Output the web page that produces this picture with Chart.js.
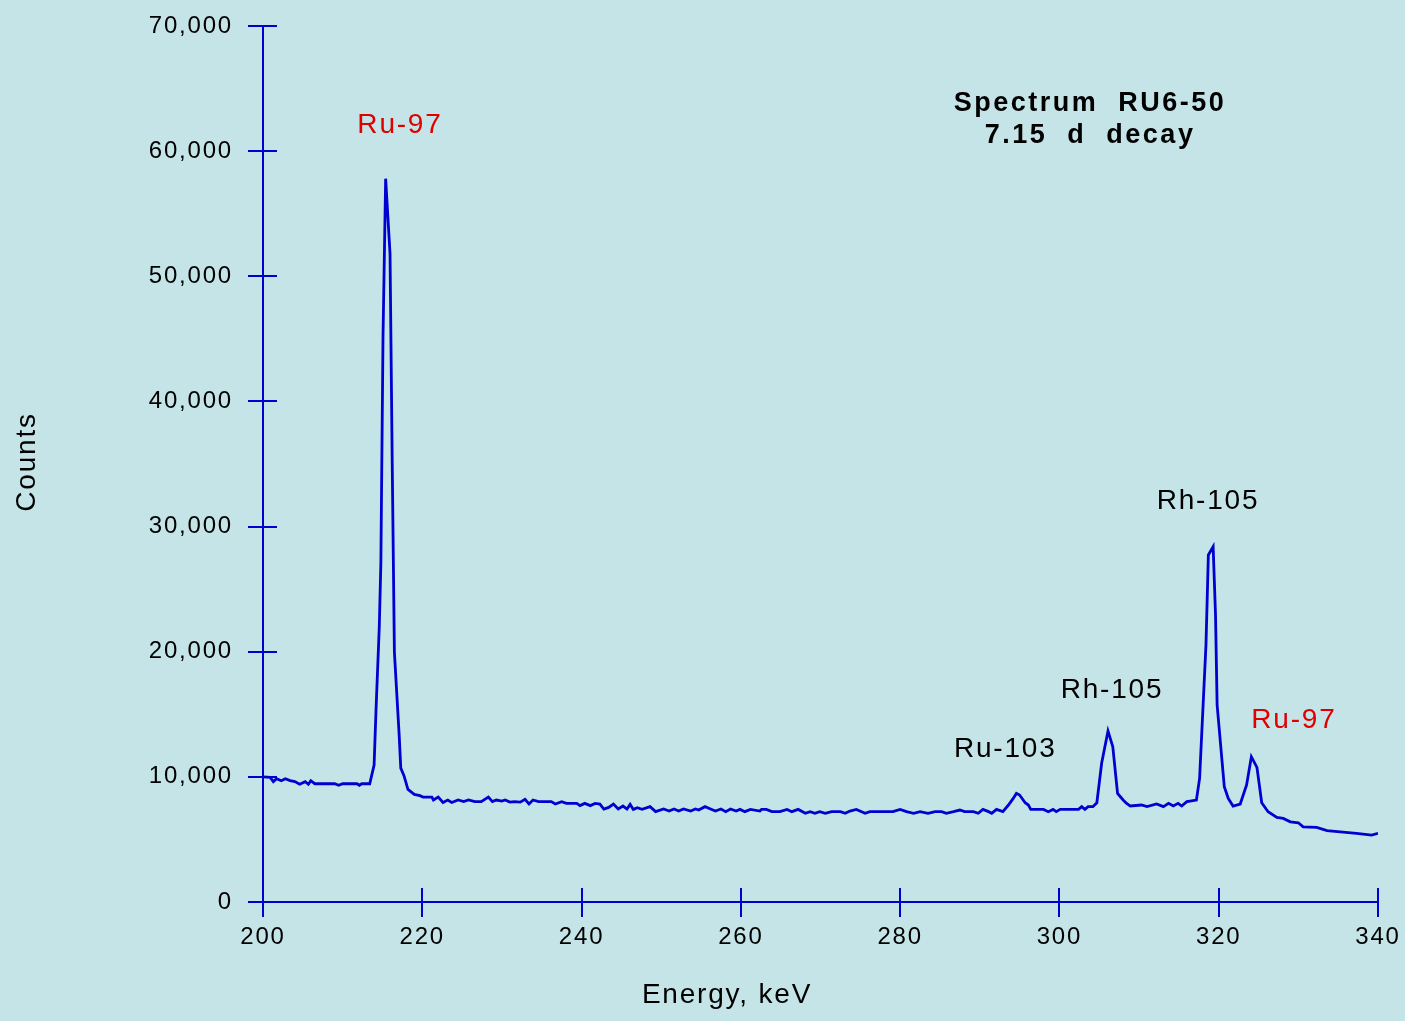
<!DOCTYPE html>
<html>
<head>
<meta charset="utf-8">
<script src="https://cdn.jsdelivr.net/npm/chart.js@4.4.1/dist/chart.umd.min.js"></script>
<style>
  html, body { margin: 0; padding: 0; background: #c4e4e7; }
  #wrap { width: 1405px; height: 1021px; position: relative; }
  canvas { display: block; }
</style>
</head>
<body>
<div id="wrap"><canvas id="c" width="1405" height="1021"></canvas></div>
<script>
// ---- Data ----
const energy = [
  200.0, 200.9, 201.3, 201.7, 202.3, 202.8, 203.4, 204.0, 204.6, 205.3, 205.7, 206.0, 206.5, 207.5, 208.5,
  209.0, 209.5, 210.0, 211.0, 211.8, 212.1, 212.4, 213.4, 213.95, 214.2, 214.6, 214.8, 215.07, 215.4, 215.95,
  216.24, 216.5, 217.1, 217.3, 217.7, 218.2, 219.0, 219.7, 220.1, 221.2, 221.4, 222.0, 222.6, 223.2, 223.7,
  224.5, 225.2, 225.8, 226.6, 227.4, 228.3, 228.8, 229.3, 230.0, 230.4, 231.0, 231.6, 232.3, 232.9, 233.4,
  233.9, 234.6, 236.2, 236.7, 237.5, 238.1, 239.4, 239.8, 240.4, 241.1, 241.7, 242.3, 242.8, 243.4, 244.0,
  244.6, 245.2, 245.7, 246.1, 246.5, 247.0, 247.6, 248.6, 249.3, 250.3, 251.0, 251.6, 252.2, 252.8, 253.7,
  254.3, 254.7, 255.5, 256.2, 256.8, 257.5, 258.1, 258.7, 259.4, 259.9, 260.5, 261.2, 262.4, 262.6, 263.2,
  263.9, 264.9, 265.8, 266.4, 267.2, 268.1, 268.7, 269.3, 269.9, 270.6, 271.4, 272.5, 273.1, 273.7, 274.5,
  275.6, 276.2, 277.9, 279.1, 280.0, 280.8, 281.7, 282.5, 283.5, 284.4, 285.2, 285.8, 286.7, 287.5, 288.1,
  289.2, 289.8, 290.4, 291.1, 291.5, 292.1, 292.9, 293.6, 294.2, 294.6, 295.0, 295.7, 296.1, 296.4, 298.0,
  298.6, 299.2, 299.6, 300.1, 302.4, 302.8, 303.2, 303.6, 304.2, 304.7, 305.3, 306.1, 306.7, 307.3, 307.6,
  308.0, 308.4, 308.9, 310.3, 311.0, 312.2, 313.05, 313.7, 314.3, 314.9, 315.35, 316.0, 316.4, 317.2, 317.6,
  318.4, 318.7, 319.3, 319.6, 319.8, 320.7, 321.2, 321.8, 322.7, 323.5, 324.1, 324.8, 325.4, 326.2, 327.3,
  328.1, 329.0, 330.0, 330.6, 332.3, 333.6, 335.6, 337.3, 339.2, 340.0
];
const counts = [
  10000, 9960, 9620, 9850, 9690, 9850, 9700, 9620, 9410, 9620, 9410, 9690, 9450, 9450, 9450,
  9450, 9330, 9450, 9450, 9450, 9330, 9450, 9450, 10950, 15500, 22000, 27100, 45200, 57800, 51800,
  34300, 19950, 13300, 10700, 10100, 9000, 8600, 8500, 8380, 8380, 8150, 8380, 7950, 8150, 7950,
  8150, 8020, 8150, 8020, 8020, 8380, 8020, 8150, 8070, 8150, 7980, 8020, 7980, 8200, 7830,
  8150, 8020, 8020, 7830, 8020, 7880, 7880, 7700, 7880, 7700, 7880, 7830, 7430, 7560, 7830,
  7430, 7670, 7430, 7800, 7400, 7530, 7400, 7620, 7220, 7430, 7270, 7430, 7270, 7430, 7270,
  7430, 7350, 7620, 7430, 7270, 7430, 7220, 7430, 7270, 7400, 7220, 7400, 7270, 7400, 7400,
  7220, 7220, 7400, 7220, 7400, 7090, 7220, 7090, 7220, 7090, 7220, 7220, 7090, 7270, 7400,
  7090, 7220, 7220, 7220, 7400, 7220, 7090, 7220, 7090, 7220, 7220, 7090, 7220, 7350, 7220,
  7220, 7090, 7400, 7220, 7090, 7400, 7220, 7750, 8280, 8680, 8550, 7930, 7750, 7400, 7400,
  7220, 7400, 7220, 7400, 7400, 7620, 7400, 7620, 7620, 7930, 11080, 13660, 12410, 8680, 8450,
  8150, 7900, 7670, 7750, 7620, 7830, 7620, 7880, 7670, 7880, 7670, 8020, 8070, 8150, 9880,
  20540, 27730, 28390, 22930, 15740, 9210, 8280, 7670, 7830, 9350, 11610, 10760, 7930, 7210, 6760,
  6680, 6410, 6330, 6010, 5960, 5700, 5590, 5480, 5350, 5480
];
const xTicks = [200, 220, 240, 260, 280, 300, 320, 340];
const yTicks = [0, 10000, 20000, 30000, 40000, 50000, 60000, 70000];
const peakLabels = ['Ru-97', 'Rh-105', 'Rh-105', 'Ru-103', 'Ru-97'];
const peakLabelColors = ['#e00000', '#000000', '#000000', '#000000', '#e00000'];
const peakLabelAt = [[217.2, 62100], [318.65, 32040], [306.6, 16940], [293.2, 12230], [329.45, 14540]];
const titleLines = ['Spectrum  RU6-50', '7.15  d  decay'];
const titleAt = [[303.85, 63770], [303.85, 61210]];
const xTitle = 'Energy, keV';
const yTitle = 'Counts';

// ---- Styles ----
const BLUE = '#0000d0';
const FONT = '"Liberation Sans", Arial, Helvetica, sans-serif';

const points = energy.map((e, i) => ({ x: e, y: counts[i] }));

const decorPlugin = {
  id: 'decor',
  beforeDraw(chart) {
    const ctx = chart.ctx;
    ctx.save();
    ctx.fillStyle = '#c4e4e7';
    ctx.fillRect(0, 0, chart.width, chart.height);
    ctx.restore();
    ctx.letterSpacing = '1.8px';
  },
  afterDraw(chart) {
    const ctx = chart.ctx;
    const xs = chart.scales.x, ys = chart.scales.y;
    ctx.save();
    ctx.strokeStyle = BLUE;
    ctx.lineWidth = 2;
    const x0 = xs.getPixelForValue(200);
    const y0 = ys.getPixelForValue(0);
    ctx.beginPath();
    yTicks.forEach(v => {
      const py = Math.round(ys.getPixelForValue(v));
      ctx.moveTo(x0 - 15, py); ctx.lineTo(x0 + 14, py);
    });
    xTicks.forEach(v => {
      const px = Math.round(xs.getPixelForValue(v));
      ctx.moveTo(px, y0 - 14); ctx.lineTo(px, y0 + 15);
    });
    ctx.stroke();

    ctx.textAlign = 'center';
    ctx.textBaseline = 'middle';
    ctx.letterSpacing = '1.8px';
    ctx.font = '28px ' + FONT;
    peakLabels.forEach((t, i) => {
      ctx.fillStyle = peakLabelColors[i];
      ctx.fillText(t, xs.getPixelForValue(peakLabelAt[i][0]), ys.getPixelForValue(peakLabelAt[i][1]));
    });
    // axis titles
    ctx.fillStyle = '#000000';
    ctx.fillText(xTitle, 727, 995);
    ctx.save();
    ctx.translate(27, 462);
    ctx.rotate(-Math.PI / 2);
    ctx.fillText(yTitle, 0, 0);
    ctx.restore();
    // chart title
    ctx.letterSpacing = '2.5px';
    ctx.font = 'bold 27px ' + FONT;
    ctx.fillStyle = '#000000';
    titleLines.forEach((t, i) => {
      ctx.fillText(t, xs.getPixelForValue(titleAt[i][0]), ys.getPixelForValue(titleAt[i][1]));
    });
    ctx.restore();
  }
};

new Chart(document.getElementById('c'), {
  type: 'line',
  data: {
    datasets: [{
      data: points,
      borderColor: BLUE,
      borderWidth: 2.8,
      pointRadius: 0,
      tension: 0,
      fill: false
    }]
  },
  options: {
    responsive: false,
    animation: false,
    devicePixelRatio: 1,
    layout: { padding: { left: 0, right: 27, top: 26, bottom: 0 } },
    plugins: { legend: { display: false }, tooltip: { enabled: false } },
    scales: {
      x: {
        type: 'linear',
        min: 200, max: 340,
        afterBuildTicks: s => { s.ticks = xTicks.map(v => ({ value: v })); },
        afterFit: s => { s.height = 119; s.paddingLeft = 0; s.paddingRight = 0; s.paddingTop = 0; s.paddingBottom = 0; },
        grid: { display: false, drawTicks: false },
        border: { display: true, color: BLUE, width: 2 },
        ticks: { color: '#000', padding: 21, font: { family: FONT, size: 24 }, maxRotation: 0 }
      },
      y: {
        type: 'linear',
        min: 0, max: 70000,
        afterBuildTicks: s => { s.ticks = yTicks.map(v => ({ value: v })); },
        afterFit: s => { s.width = 263; s.paddingLeft = 0; s.paddingRight = 0; s.paddingTop = 0; s.paddingBottom = 0; },
        grid: { display: false, drawTicks: false },
        border: { display: true, color: BLUE, width: 2 },
        ticks: { color: '#000', padding: 30, font: { family: FONT, size: 24 },
          callback: v => v.toLocaleString('en-US') }
      }
    }
  },
  plugins: [decorPlugin]
});
</script>
</body>
</html>
